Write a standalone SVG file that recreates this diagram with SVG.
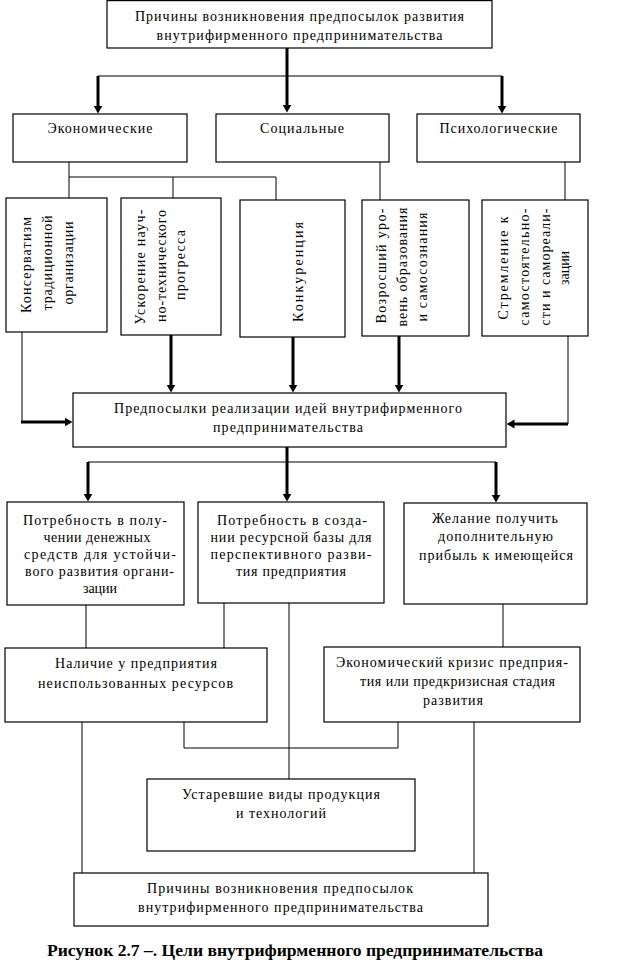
<svg xmlns="http://www.w3.org/2000/svg" width="632" height="969" viewBox="0 0 632 969">
<style>
.box{fill:#fff;stroke:#000;stroke-width:1.2}
.t{font-family:"Liberation Serif","DejaVu Serif",serif;font-size:14px;fill:#000;text-anchor:middle}
.cap{font-family:"Liberation Serif","DejaVu Serif",serif;font-size:17px;font-weight:bold;fill:#000;text-anchor:middle}
.thin{stroke:#000;stroke-width:1;fill:none}
.thick{stroke:#000;stroke-width:3;fill:none}
.arr{marker-end:url(#ah)}
</style>
<defs>
<marker id="ah" markerUnits="userSpaceOnUse" markerWidth="8" markerHeight="10" viewBox="0 -5 8 10" refX="0.5" refY="0" orient="auto"><path d="M0,-4.5 L8,0 L0,4.5 z" fill="#000"/></marker>
</defs>
<rect width="632" height="969" fill="#fff"/>

<g id="connectors">
<line class="thick arr" x1="287" y1="48" x2="287" y2="105"/>
<polyline class="thin" points="98,76 502,76"/>
<line class="thick arr" x1="98" y1="76" x2="98" y2="106"/>
<line class="thick arr" x1="502" y1="76" x2="502" y2="106"/>
<line class="thin" x1="69" y1="162" x2="69" y2="198"/>
<line class="thin" x1="69" y1="177" x2="276" y2="177"/>
<line class="thin" x1="173" y1="177" x2="173" y2="198"/>
<line class="thin" x1="276" y1="177" x2="276" y2="200"/>
<line class="thin" x1="380" y1="162" x2="380" y2="200"/>
<line class="thin" x1="565" y1="162" x2="565" y2="200"/>
<line class="thin" x1="22" y1="332" x2="22" y2="423"/>
<line class="thick arr" x1="21" y1="422" x2="65" y2="422"/>
<line class="thick arr" x1="171" y1="335" x2="171" y2="385"/>
<line class="thick arr" x1="293" y1="337" x2="293" y2="385"/>
<line class="thick arr" x1="399" y1="336" x2="399" y2="385"/>
<line class="thin" x1="568" y1="336" x2="568" y2="424"/>
<line class="thick arr" x1="568" y1="424" x2="514" y2="424"/>
<line class="thick arr" x1="287" y1="447" x2="287" y2="494"/>
<line class="thin" x1="88" y1="462" x2="496" y2="462"/>
<line class="thick arr" x1="88" y1="462" x2="88" y2="494"/>
<line class="thick arr" x1="496" y1="462" x2="496" y2="495"/>
<line class="thin" x1="86" y1="605" x2="86" y2="648"/>
<line class="thin" x1="224" y1="603" x2="224" y2="648"/>
<line class="thin" x1="289" y1="603" x2="289" y2="779"/>
<line class="thin" x1="503" y1="604" x2="503" y2="647"/>
<line class="thin" x1="82" y1="722" x2="82" y2="873"/>
<polyline class="thin" points="184,722 184,748 398,748 398,722"/>
<line class="thin" x1="474" y1="722" x2="474" y2="873"/>
</g>

<g id="top">
<rect class="box" x="107" y="0.6" width="385" height="47.4"/>
<text class="t" x="299.5" y="21" textLength="329" lengthAdjust="spacing">Причины возникновения предпосылок развития</text>
<text class="t" x="299.5" y="40" textLength="286" lengthAdjust="spacing">внутрифирменного предпринимательства</text>
</g>

<g id="econ">
<rect class="box" x="13" y="114" width="174" height="48"/>
<text class="t" x="100" y="133" textLength="105" lengthAdjust="spacing">Экономические</text>
</g>
<g id="social">
<rect class="box" x="216" y="114" width="173" height="48"/>
<text class="t" x="302" y="133" textLength="84" lengthAdjust="spacing">Социальные</text>
</g>
<g id="psych">
<rect class="box" x="417" y="114" width="163" height="48"/>
<text class="t" x="498.5" y="133" textLength="118" lengthAdjust="spacing">Психологические</text>
</g>

<g id="konserv">
<rect class="box" x="6" y="198" width="101" height="134"/>
<text class="t" transform="translate(31,265) rotate(-90)" textLength="96" lengthAdjust="spacing">Консерватизм</text>
<text class="t" transform="translate(52,263) rotate(-90)" textLength="95" lengthAdjust="spacing">традиционной</text>
<text class="t" transform="translate(73,263) rotate(-90)" textLength="83" lengthAdjust="spacing">организации</text>
</g>
<g id="uskor">
<rect class="box" x="121" y="198" width="100" height="137"/>
<text class="t" transform="translate(145,267) rotate(-90)" textLength="115" lengthAdjust="spacing">Ускорение науч-</text>
<text class="t" transform="translate(166,266) rotate(-90)" textLength="112" lengthAdjust="spacing">но-технического</text>
<text class="t" transform="translate(185,265) rotate(-90)" textLength="70" lengthAdjust="spacing">прогресса</text>
</g>
<g id="konk">
<rect class="box" x="240" y="200" width="105" height="137"/>
<text class="t" transform="translate(303,272) rotate(-90)" textLength="100" lengthAdjust="spacing">Конкуренция</text>
</g>
<g id="vozr">
<rect class="box" x="362" y="200" width="107" height="136"/>
<text class="t" transform="translate(386,266) rotate(-90)" textLength="115" lengthAdjust="spacing">Возросший уро-</text>
<text class="t" transform="translate(407,267) rotate(-90)" textLength="119" lengthAdjust="spacing">вень образования</text>
<text class="t" transform="translate(427,267) rotate(-90)" textLength="109" lengthAdjust="spacing">и самосознания</text>
</g>
<g id="strem">
<rect class="box" x="482" y="200" width="106" height="136"/>
<text class="t" transform="translate(508,268) rotate(-90)" textLength="103" lengthAdjust="spacing">Стремление к</text>
<text class="t" transform="translate(529,267) rotate(-90)" textLength="117" lengthAdjust="spacing">самостоятельно-</text>
<text class="t" transform="translate(550,267) rotate(-90)" textLength="117" lengthAdjust="spacing">сти и самореали-</text>
<text class="t" transform="translate(569,268) rotate(-90)">зации</text>
</g>

<g id="prereq">
<rect class="box" x="73" y="393" width="433" height="54"/>
<text class="t" x="288" y="413" textLength="348" lengthAdjust="spacing">Предпосылки реализации идей внутрифирменного</text>
<text class="t" x="288" y="432" textLength="150" lengthAdjust="spacing">предпринимательства</text>
</g>

<g id="need1">
<rect class="box" x="7" y="502" width="177" height="103"/>
<text class="t" x="95" y="525" textLength="144" lengthAdjust="spacing">Потребность в полу-</text>
<text class="t" x="97" y="542" textLength="107" lengthAdjust="spacing">чении денежных</text>
<text class="t" x="100" y="559" textLength="152" lengthAdjust="spacing">средств для устойчи-</text>
<text class="t" x="99.5" y="576" textLength="149" lengthAdjust="spacing">вого развития органи-</text>
<text class="t" x="100" y="593">зации</text>
</g>
<g id="need2">
<rect class="box" x="198" y="502" width="186" height="101"/>
<text class="t" x="292" y="525" textLength="150" lengthAdjust="spacing">Потребность в созда-</text>
<text class="t" x="291" y="542" textLength="161" lengthAdjust="spacing">нии ресурсной базы для</text>
<text class="t" x="291" y="559" textLength="161" lengthAdjust="spacing">перспективного разви-</text>
<text class="t" x="291" y="576" textLength="110" lengthAdjust="spacing">тия предприятия</text>
</g>
<g id="desire">
<rect class="box" x="404" y="503" width="183" height="101"/>
<text class="t" x="495" y="523" textLength="126" lengthAdjust="spacing">Желание получить</text>
<text class="t" x="495.5" y="541" textLength="115" lengthAdjust="spacing">дополнительную</text>
<text class="t" x="496" y="560" textLength="154" lengthAdjust="spacing">прибыль к имеющейся</text>
</g>

<g id="resources">
<rect class="box" x="5" y="648" width="262" height="74"/>
<text class="t" x="136" y="668" textLength="162" lengthAdjust="spacing">Наличие у предприятия</text>
<text class="t" x="135.5" y="688" textLength="195" lengthAdjust="spacing">неиспользованных  ресурсов</text>
</g>
<g id="crisis">
<rect class="box" x="324" y="647" width="256" height="75"/>
<text class="t" x="452" y="667" textLength="232" lengthAdjust="spacing">Экономический кризис предприя-</text>
<text class="t" x="457.5" y="686" textLength="195" lengthAdjust="spacing">тия или предкризисная стадия</text>
<text class="t" x="453" y="705" textLength="60" lengthAdjust="spacing">развития</text>
</g>
<g id="outdated">
<rect class="box" x="147" y="779" width="268" height="72"/>
<text class="t" x="281" y="799" textLength="198" lengthAdjust="spacing">Устаревшие виды продукция</text>
<text class="t" x="281" y="818" textLength="90" lengthAdjust="spacing">и технологий</text>
</g>
<g id="bottom">
<rect class="box" x="74" y="873" width="414" height="53"/>
<text class="t" x="280" y="893" textLength="266" lengthAdjust="spacing">Причины возникновения предпосылок</text>
<text class="t" x="280.5" y="912" textLength="285" lengthAdjust="spacing">внутрифирменного предпринимательства</text>
</g>

<text class="cap" x="295" y="956" textLength="496" lengthAdjust="spacingAndGlyphs">Рисунок 2.7  –. Цели внутрифирменного предпринимательства</text>
</svg>
